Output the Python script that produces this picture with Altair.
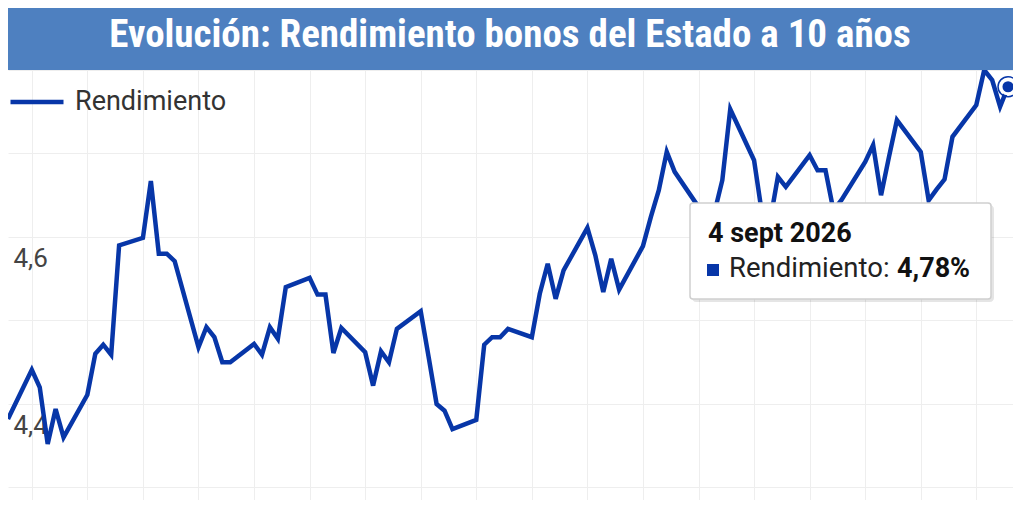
import altair as alt
import pandas as pd

# ---------------- data ----------------
FECHAS = [
    "2026-05-01",
    "2026-05-04", "2026-05-05", "2026-05-06", "2026-05-07", "2026-05-08",
    "2026-05-11", "2026-05-12", "2026-05-13", "2026-05-14", "2026-05-15",
    "2026-05-18", "2026-05-19", "2026-05-20", "2026-05-21", "2026-05-22",
    "2026-05-25", "2026-05-26", "2026-05-27", "2026-05-28", "2026-05-29",
    "2026-06-01", "2026-06-02", "2026-06-03", "2026-06-04", "2026-06-05",
    "2026-06-08", "2026-06-09", "2026-06-10", "2026-06-11", "2026-06-12",
    "2026-06-15", "2026-06-16", "2026-06-17", "2026-06-18", "2026-06-19",
    "2026-06-22", "2026-06-23", "2026-06-24", "2026-06-25", "2026-06-26",
    "2026-06-29", "2026-06-30", "2026-07-01", "2026-07-02", "2026-07-03",
    "2026-07-06", "2026-07-07", "2026-07-08", "2026-07-09", "2026-07-10",
    "2026-07-13", "2026-07-14", "2026-07-15", "2026-07-16", "2026-07-17",
    "2026-07-20", "2026-07-21", "2026-07-22", "2026-07-23", "2026-07-24",
    "2026-07-27", "2026-07-28", "2026-07-29", "2026-07-30", "2026-07-31",
    "2026-08-03", "2026-08-04", "2026-08-05", "2026-08-06", "2026-08-07",
    "2026-08-10", "2026-08-11", "2026-08-12", "2026-08-13", "2026-08-14",
    "2026-08-17", "2026-08-18", "2026-08-19", "2026-08-20", "2026-08-21",
    "2026-08-24", "2026-08-25", "2026-08-26", "2026-08-27", "2026-08-28",
    "2026-08-31", "2026-09-01", "2026-09-02", "2026-09-03", "2026-09-04",
]

RENDIMIENTO = [
    4.382,
    4.441, 4.420, 4.352, 4.394, 4.360,
    4.411, 4.460, 4.471, 4.459, 4.590,
    4.599, 4.667, 4.580, 4.580, 4.571,
    4.468, 4.492, 4.480, 4.450, 4.450,
    4.472, 4.459, 4.492, 4.478, 4.540,
    4.551, 4.531, 4.531, 4.461, 4.491,
    4.462, 4.422, 4.463, 4.450, 4.490,
    4.511, 4.456, 4.400, 4.392, 4.370,
    4.381, 4.471, 4.480, 4.480, 4.490,
    4.480, 4.532, 4.568, 4.526, 4.560,
    4.611, 4.578, 4.534, 4.574, 4.537,
    4.589, 4.624, 4.656, 4.702, 4.678,
    4.636, 4.612, 4.629, 4.668, 4.753,
    4.692, 4.628, 4.618, 4.672, 4.660,
    4.698, 4.680, 4.680, 4.632, 4.644,
    4.690, 4.710, 4.650, 4.696, 4.740,
    4.702, 4.644, 4.657, 4.669, 4.720,
    4.758, 4.800, 4.788, 4.756, 4.780,
]

SERIE = "Rendimiento"
TITULO = "Evolución: Rendimiento bonos del Estado a 10 años"
Y_GRID = [4.3, 4.4, 4.5, 4.6, 4.7, 4.8]
Y_LABELS = [4.4, 4.6]
LUNES = [
    "2026-05-04", "2026-05-11", "2026-05-18", "2026-05-25",
    "2026-06-01", "2026-06-08", "2026-06-15", "2026-06-22", "2026-06-29",
    "2026-07-06", "2026-07-13", "2026-07-20", "2026-07-27",
    "2026-08-03", "2026-08-10", "2026-08-17", "2026-08-24", "2026-08-31",
]
MESES = ["ene", "feb", "mar", "abr", "may", "jun",
         "jul", "ago", "sept", "oct", "nov", "dic"]

# ---------------- layout / style ----------------
W, H = 1005, 430
HEADER_H = 62
BLUE = "#0736a8"
HEADER_BG = "#4e80c0"
GRID = "#eeeeee"
FONT = "Roboto"


def dt(s, hours=0):
    y, m, d = (int(p) for p in s.split("-"))
    return alt.DateTime(year=y, month=m, date=d, hours=hours, utc=True)


df = pd.DataFrame({"fecha": FECHAS, "valor": RENDIMIENTO, "serie": SERIE})
last = df.iloc[[-1]].reset_index(drop=True)

ly, lm, ld = (int(p) for p in FECHAS[-1].split("-"))
fecha_txt = f"{ld} {MESES[lm - 1]} {ly}"
valor_txt = f"{RENDIMIENTO[-1]:.2f}".replace(".", ",") + "%"

label_test = " || ".join(f"abs(datum.value - {v}) < 0.001" for v in Y_LABELS)
label_expr = f"({label_test}) ? replace(format(datum.value, '.1f'), '.', ',') : ''"

x_enc = alt.X(
    "fecha:T",
    scale=alt.Scale(type="utc", domain=[dt(FECHAS[0]), dt(FECHAS[-1], hours=15)]),
    axis=alt.Axis(
        values=[dt(s) for s in LUNES], grid=True, gridColor=GRID, gridWidth=1,
        labels=False, ticks=False, domain=False, title=None,
    ),
)
y_enc = alt.Y(
    "valor:Q",
    scale=alt.Scale(domain=[4.285, 4.8], nice=False, zero=False),
    axis=alt.Axis(
        values=Y_GRID, grid=True, gridColor=GRID, gridWidth=1,
        domain=False, ticks=False, tickSize=0, title=None,
        labelExpr=label_expr, labelAlign="left", labelBaseline="alphabetic",
        labelPadding=-5, labelOffset=30, labelFontSize=26, labelFont=FONT,
        labelColor="#444444",
    ),
)

base = alt.Chart(df)

line = base.mark_line(strokeWidth=4.5, strokeJoin="miter", clip=True).encode(
    x=x_enc,
    y=y_enc,
    color=alt.Color(
        "serie:N",
        scale=alt.Scale(domain=[SERIE], range=[BLUE]),
        legend=alt.Legend(
            orient="none", legendX=0, legendY=3, title=None,
            symbolType="stroke", symbolSize=2809, symbolStrokeWidth=4.5,
            labelFontSize=27, labelFont=FONT, labelColor="#333333",
            labelOffset=9, padding=0, rowPadding=0,
        ),
    ),
)

last_chart = alt.Chart(last)

halo = last_chart.mark_point(
    shape="circle", filled=False, size=400, stroke=BLUE, strokeWidth=1.5,
    opacity=1, clip=True,
).encode(x="fecha:T", y="valor:Q")

marker = last_chart.mark_point(
    shape="circle", filled=True, size=200, fill=BLUE, stroke="white",
    strokeWidth=3, opacity=1, clip=True,
).encode(x="fecha:T", y="valor:Q")

# tooltip box
tip_shadow = last_chart.mark_rect(color="#000000", opacity=0.10, cornerRadius=4).encode(
    x=alt.value(684), x2=alt.value(986), y=alt.value(135), y2=alt.value(232)
)
tip_box = last_chart.mark_rect(
    fill="white", stroke="#cfcfcf", strokeWidth=1.5, cornerRadius=3
).encode(x=alt.value(682), x2=alt.value(983), y=alt.value(133), y2=alt.value(229))
tip_date = last_chart.mark_text(
    align="left", baseline="alphabetic", font=FONT, fontSize=27,
    fontWeight="bold", color="#111111",
).encode(x=alt.value(700), y=alt.value(172), text=alt.value(fecha_txt))
tip_square = last_chart.mark_rect(color=BLUE).encode(
    x=alt.value(699), x2=alt.value(711), y=alt.value(194), y2=alt.value(206)
)
tip_name = last_chart.mark_text(
    align="left", baseline="alphabetic", font=FONT, fontSize=27.5, color="#222222",
).encode(x=alt.value(721), y=alt.value(207), text=alt.value(SERIE + ":"))
tip_val = last_chart.mark_text(
    align="left", baseline="alphabetic", font=FONT, fontSize=27,
    fontWeight="bold", color="#111111",
).encode(x=alt.value(889), y=alt.value(207), text=alt.value(valor_txt))

# header bar
header = last_chart.mark_rect(color=HEADER_BG).encode(
    x=alt.value(0), x2=alt.value(W), y=alt.value(-HEADER_H), y2=alt.value(0)
)
header_text = last_chart.mark_text(
    align="center", baseline="alphabetic",
    font="Roboto Condensed, Liberation Sans Narrow, Arial Narrow, DejaVu Sans Condensed, Roboto",
    fontSize=39, fontWeight="bold", color="white",
).encode(x=alt.value(502), y=alt.value(-23), text=alt.value(TITULO))

chart = alt.layer(
    line, halo, marker, tip_shadow, tip_box, tip_date, tip_square, tip_name,
    tip_val, header, header_text,
).properties(
    width=W, height=H, padding=0, background="white",
).configure_view(stroke=None)

chart.save("out.html", embed_options={"renderer": "svg", "actions": False})
